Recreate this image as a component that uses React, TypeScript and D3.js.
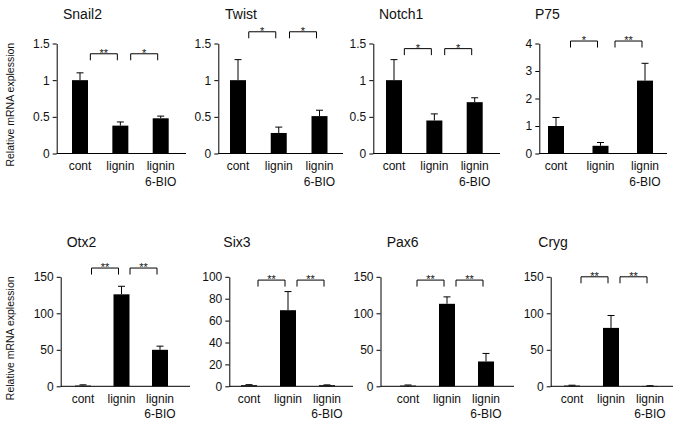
import { useEffect, useRef } from "react"
import * as d3 from "d3"

const W = 680
const H = 426
const FONT = "'Liberation Sans', Arial, Helvetica, sans-serif"

const groups = ["cont", "lignin", "lignin 6-BIO"]
const genes = ["Snail2", "Twist", "Notch1", "P75", "Otx2", "Six3", "Pax6", "Cryg"]

// mean relative expression per group (cont, lignin, lignin + 6-BIO)
const snail2 = [1.0, 0.38, 0.48]
const twist = [1.0, 0.28, 0.51]
const notch1 = [1.0, 0.45, 0.7]
const p75 = [1.0, 0.28, 2.65]
const otx2 = [1, 126, 50]
const six3 = [1, 69.5, 1]
const pax6 = [1, 113, 34]
const cryg = [1, 80, 0.5]

// upper error (SD)
const snail2Err = [0.1, 0.05, 0.03]
const twistErr = [0.28, 0.08, 0.08]
const notch1Err = [0.28, 0.09, 0.06]
const p75Err = [0.31, 0.12, 0.63]
const otx2Err = [1, 11, 5]
const six3Err = [0.5, 17, 0.3]
const pax6Err = [0.8, 9.5, 11]
const crygErr = [0.5, 17, 0.3]

const means = [snail2, twist, notch1, p75, otx2, six3, pax6, cryg]
const errs = [snail2Err, twistErr, notch1Err, p75Err, otx2Err, six3Err, pax6Err, crygErr]

const yMax = [1.5, 1.5, 1.5, 4, 150, 100, 150, 150]
const yStep = [0.5, 0.5, 0.5, 1, 50, 20, 50, 50]

// significance marks: cont vs lignin, lignin vs lignin+6-BIO
const sigMarks = [
  ["**", "*"], ["*", "*"], ["*", "*"], ["*", "**"],
  ["**", "**"], ["**", "**"], ["**", "**"], ["**", "**"],
]
const sigLevel = [1.36, 1.66, 1.43, 4.09, 162, 97, 145.5, 150]

const yLabel = "Relative mRNA explession"

// panel placement
const ROW_Y: [number, number][] = [[153.5, 43.5], [386.3, 276.8]]
const TITLE_Y = [18.5, 247]
const XLAB_Y = [[170, 185.5], [402.7, 417.5]]
const YLAB_Y = [104.7, 338.3]
const LAYOUT = [
  { axisX: 56.7, axisEnd: 186, c0: 80, c2: 160.7, titleX: 63 },
  { axisX: 218.3, axisEnd: 343, c0: 238, c2: 319.5, titleX: 225 },
  { axisX: 373.3, axisEnd: 500, c0: 394, c2: 474.7, titleX: 379 },
  { axisX: 539.3, axisEnd: 667, c0: 556, c2: 645, titleX: 535 },
  { axisX: 60.7, axisEnd: 190, c0: 83, c2: 160, titleX: 66.7 },
  { axisX: 229.3, axisEnd: 353, c0: 249, c2: 327, titleX: 223.3 },
  { axisX: 380.5, axisEnd: 514, c0: 408, c2: 486, titleX: 386.7 },
  { axisX: 550.7, axisEnd: 673, c0: 572, c2: 650, titleX: 538.3 },
]
const BAR_W = 16
const CAP = 3.5

export default function App() {
  const svgRef = useRef<SVGSVGElement>(null)

  useEffect(() => {
    const svg = d3.select(svgRef.current)
    svg.selectAll("*").remove()

    YLAB_Y.forEach((cy) => {
      svg.append("text")
        .attr("transform", `translate(13.5,${cy}) rotate(-90)`)
        .attr("text-anchor", "middle")
        .attr("font-size", 10.5)
        .attr("font-family", FONT)
        .attr("fill", "#111")
        .text(yLabel)
    })

    genes.forEach((gene, i) => {
      const L = LAYOUT[i]
      const row = i < 4 ? 0 : 1
      const [y0, y1] = ROW_Y[row]
      const y = d3.scaleLinear().domain([0, yMax[i]]).range([y0, y1])
      const x = d3.scalePoint<string>().domain(groups).range([L.c0, L.c2])
      const g = svg.append("g")
      const vals = means[i].map((m, j) => ({ grp: groups[j], m, e: errs[i][j] }))

      g.append("text")
        .attr("x", L.titleX).attr("y", TITLE_Y[row])
        .attr("font-size", 14).attr("font-family", FONT).attr("fill", "#111")
        .text(gene)

      // error bars (upper only)
      g.append("g").selectAll("path")
        .data(vals)
        .join("path")
        .attr("d", (d) => {
          const cx = x(d.grp)!
          const top = y(d.m + d.e)
          return `M${cx},${y(d.m)}V${top}M${cx - CAP},${top}H${cx + CAP}`
        })
        .attr("stroke", "#000").attr("stroke-width", 1).attr("fill", "none")

      g.append("g").selectAll("rect")
        .data(vals)
        .join("rect")
        .attr("x", (d) => x(d.grp)! - BAR_W / 2)
        .attr("y", (d) => y(d.m))
        .attr("width", BAR_W)
        .attr("height", (d) => y0 - y(d.m))
        .attr("fill", "#000")

      const ax = g.append("g")
        .attr("transform", `translate(${L.axisX},0)`)
        .call(d3.axisLeft(y)
          .tickValues(d3.range(0, yMax[i] + 1e-9, yStep[i]))
          .tickFormat(d3.format("~g"))
          .tickSize(4).tickSizeOuter(0).tickPadding(3))
      ax.select(".domain").attr("stroke", "#000")
      ax.selectAll("line").attr("stroke", "#000")
      ax.selectAll("text").attr("font-size", 12).attr("font-family", FONT).attr("fill", "#111")

      g.append("line")
        .attr("x1", L.axisX).attr("x2", L.axisEnd)
        .attr("y1", y0).attr("y2", y0)
        .attr("stroke", "#000")

      // category labels
      groups.forEach((grp) => {
        grp.split(" ").forEach((line, k) => {
          g.append("text")
            .attr("x", x(grp)!).attr("y", XLAB_Y[row][k])
            .attr("text-anchor", "middle")
            .attr("font-size", 12).attr("font-family", FONT).attr("fill", "#111")
            .text(line)
        })
      })

      // significance brackets
      const yb = y(sigLevel[i])
      sigMarks[i].forEach((mark, k) => {
        const right = x(groups[k + 1])! - 3
        const left = right - 27
        g.append("path")
          .attr("d", `M${left},${yb + 6.5}V${yb}H${right}V${yb + 6.5}`)
          .attr("stroke", "#000").attr("stroke-width", 1).attr("fill", "none")
        g.append("text")
          .attr("x", (left + right) / 2).attr("y", yb + 3)
          .attr("text-anchor", "middle")
          .attr("font-size", 11).attr("font-family", FONT).attr("fill", "#111")
          .text(mark)
      })
    })
  }, [])

  return (
    <svg ref={svgRef} width={W} height={H}
      style={{ position: "absolute", left: 0, top: 0, background: "#fff" }} />
  )
}
